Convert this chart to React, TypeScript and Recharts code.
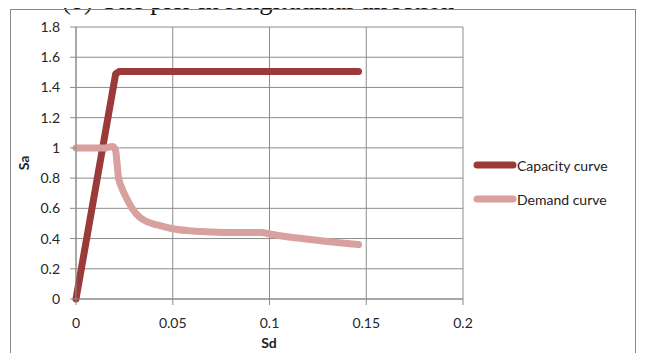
import { LineChart, Line, XAxis, YAxis, CartesianGrid } from 'recharts';

// Capacity curve: elastic branch then plateau
const capacitySd = [0, 0.0205, 0.0222, 0.146];
const capacitySa = [0, 1.49, 1.505, 1.505];

// Demand curve
const demandSd = [0, 0.005, 0.01, 0.015, 0.019, 0.0205, 0.0212, 0.022, 0.0235, 0.026, 0.029, 0.033, 0.037, 0.042, 0.05, 0.06, 0.07, 0.08, 0.09, 0.096, 0.1, 0.11, 0.12, 0.13, 0.14, 0.146];
const demandSa = [1.0, 1.0, 1.0, 1.0, 1.01, 0.98, 0.9, 0.8, 0.74, 0.67, 0.6, 0.54, 0.51, 0.49, 0.465, 0.45, 0.443, 0.44, 0.44, 0.44, 0.43, 0.41, 0.395, 0.38, 0.367, 0.36];

const xTicks = [0, 0.05, 0.1, 0.15, 0.2];
const yTicks = [0, 0.2, 0.4, 0.6, 0.8, 1, 1.2, 1.4, 1.6, 1.8];

const capacity = capacitySd.map((sd, i) => ({ sd, sa: capacitySa[i] }));
const demand = demandSd.map((sd, i) => ({ sd, sa: demandSa[i] }));

const CAPACITY_COLOR = '#9a3b3a';
const DEMAND_COLOR = '#d8a09f';
const GRID = '#8c8c8c';

const legendItems = [
  { name: 'Capacity curve', color: CAPACITY_COLOR },
  { name: 'Demand curve', color: DEMAND_COLOR },
];

function CurveLegend() {
  return (
    <div style={{ position: 'absolute', left: 465, top: 140 }}>
      {legendItems.map((item) => (
        <div key={item.name} style={{ display: 'flex', alignItems: 'center', height: 34 }}>
          <svg width={44} height={10}>
            <line x1={4} y1={5} x2={40} y2={5} stroke={item.color} strokeWidth={7} strokeLinecap="round" />
          </svg>
          <span style={{ color: '#222', fontSize: 14, fontFamily: 'Lato' }}>{item.name}</span>
        </div>
      ))}
    </div>
  );
}

export default function App() {
  return (
    <div style={{ position: 'relative', width: 631, height: 345 }}>
      <div
        style={{
          position: 'absolute',
          left: 54,
          top: -21,
          fontFamily: '"Liberation Serif", serif',
          fontSize: 26.5,
          lineHeight: 1,
          whiteSpace: 'nowrap',
          color: '#111',
        }}
      >
        (b) One pier in longitudinal direction
      </div>
      <div
        style={{
          position: 'absolute',
          left: 2,
          top: 1,
          width: 626,
          height: 400,
          border: '1.5px solid #888',
          boxSizing: 'border-box',
        }}
      />
      <LineChart
        width={631}
        height={345}
        margin={{ top: 19, right: 176, left: 0, bottom: 24 }}
        style={{ position: 'absolute', left: 0, top: 0, fontFamily: 'Lato', fontSize: 14 }}
      >
        <CartesianGrid stroke={GRID} />
        <XAxis
          type="number"
          dataKey="sd"
          domain={[0, 0.2]}
          ticks={xTicks}
          height={30}
          stroke={GRID}
          tickSize={6}
          tickMargin={13}
          tick={{ fill: '#262626' }}
        />
        <YAxis
          type="number"
          dataKey="sa"
          domain={[0, 1.8]}
          ticks={yTicks}
          width={68}
          stroke={GRID}
          tickSize={6}
          tickMargin={10}
          tick={{ fill: '#262626' }}
        />
        <Line
          data={capacity}
          dataKey="sa"
          name="Capacity curve"
          type="linear"
          stroke={CAPACITY_COLOR}
          strokeWidth={7}
          strokeLinecap="round"
          strokeLinejoin="round"
          dot={false}
          isAnimationActive={false}
        />
        <Line
          data={demand}
          dataKey="sa"
          name="Demand curve"
          type="monotone"
          stroke={DEMAND_COLOR}
          strokeWidth={7}
          strokeLinecap="round"
          strokeLinejoin="round"
          dot={false}
          isAnimationActive={false}
        />
      </LineChart>
      <CurveLegend />
      <div
        style={{
          position: 'absolute',
          left: 15,
          top: 155,
          transform: 'translate(-50%, -50%) rotate(-90deg)',
          fontFamily: 'Lato',
          fontWeight: 700,
          fontSize: 14,
          color: '#222',
        }}
      >
        Sa
      </div>
      <div
        style={{
          position: 'absolute',
          left: 261,
          top: 334,
          transform: 'translate(-50%, -50%)',
          fontFamily: 'Lato',
          fontWeight: 700,
          fontSize: 14,
          color: '#222',
        }}
      >
        Sd
      </div>
    </div>
  );
}
